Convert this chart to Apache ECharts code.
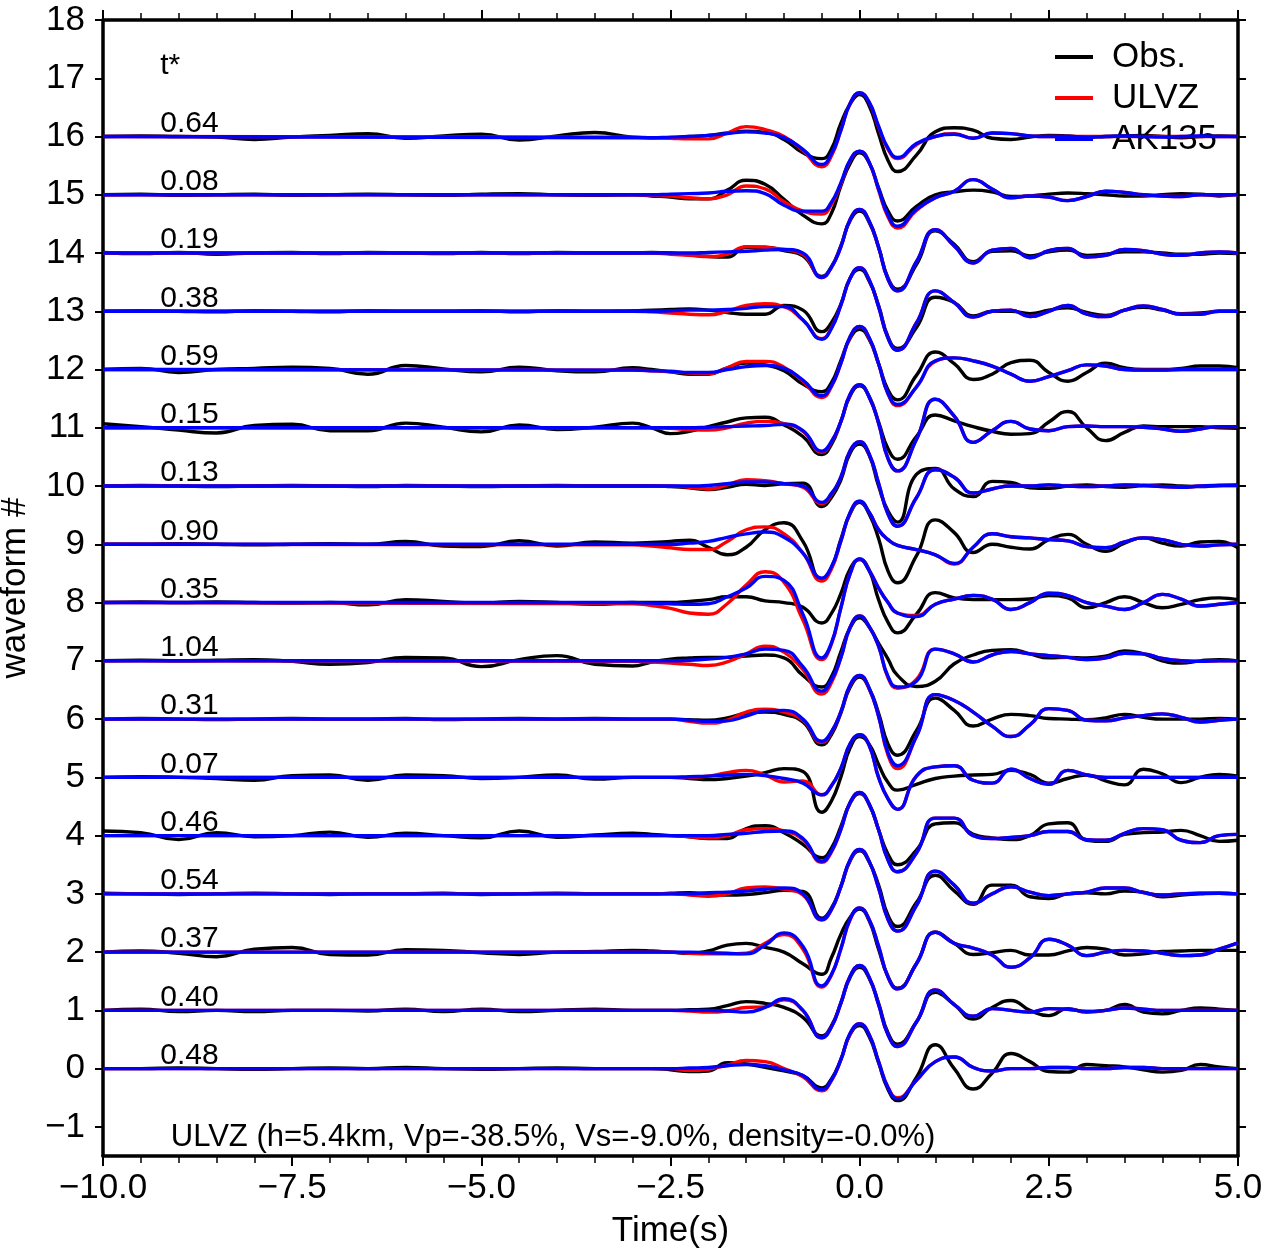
<!DOCTYPE html>
<html><head><meta charset="utf-8">
<script src="https://cdn.jsdelivr.net/npm/echarts@6/dist/echarts.min.js"></script>
<style>html,body{margin:0;padding:0;background:#fff}#c{width:1262px;height:1251px}</style>
</head><body><div id="c"></div>
<script>
// ---------- data ----------
const TIME_OBS = [-10,-9.5,-9,-8.5,-8,-7.5,-7,-6.5,-6,-5.5,-5,-4.5,-4,-3.5,
  -3,-2.75,-2.5,-2.25,-2,-1.75,-1.5,-1.25,-1,-0.75,-0.5,-0.25,0,0.25,0.5,0.75,1,1.25,1.5,1.75,2,2.25,2.5,2.75,3,3.25,3.5,3.75,4,4.25,4.5,4.75,5];
const TIME_SYN = [-10,
  -3,-2.75,-2.5,-2.25,-2,-1.75,-1.5,-1.25,-1,-0.75,-0.5,-0.25,0,0.25,0.5,0.75,1,1.25,1.5,1.75,2,2.25,2.5,2.75,3,3.25,3.5,3.75,4,4.25,4.5,4.75,5];
// extra samples around the main pulse (all traces)
const TIME_FINE = [-0.375,-0.125,0.125,0.375];
const OFFSETS = [16,15,14,13,12,11,10,9,8,7,6,5,4,3,2,1,0];
const TSTAR = ['0.64','0.08','0.19','0.38','0.59','0.15','0.13','0.90','0.35','1.04','0.31','0.07','0.46','0.54','0.37','0.40','0.48'];
const X_TICKS = [-10,-7.5,-5,-2.5,0,2.5,5];
const Y_TICKS = [-1,0,1,2,3,4,5,6,7,8,9,10,11,12,13,14,15,16,17,18];
const SERIES_NAMES = ['Obs.','ULVZ','AK135'];
const NOTE = 'ULVZ (h=5.4km, Vp=-38.5%, Vs=-9.0%, density=-0.0%)';

// observed (black), amplitude relative to trace baseline, on TIME_OBS
const obs16 = [0,0.01,0,-0.01,-0.05,-0.01,0.02,0.05,-0.03,0.01,0.04,-0.06,0.01,0.07,
  -0.01,-0.02,-0.02,0.0,0.02,0.06,0.09,0.07,-0.05,-0.28,-0.38,0.22,0.72,0.05,-0.6,-0.32,0.08,0.15,0.11,-0.03,-0.05,-0.01,0.02,0.01,-0.01,0.0,0.01,0.02,0.0,-0.02,0.0,0.01,0.0];
const obs15 = [0,0.01,-0.01,0,0.01,-0.01,0,0.01,0,-0.01,0.01,0.02,0,-0.01,
  0.0,-0.02,-0.04,-0.07,-0.07,0.08,0.25,0.18,-0.08,-0.35,-0.5,0.15,0.72,0.12,-0.45,-0.2,0.0,0.05,0.08,0.05,-0.03,-0.02,0.01,0.03,0.02,0.0,-0.02,-0.02,0.0,0.02,0.01,-0.02,0.01];
const obs14 = [0.01,-0.01,0.01,-0.02,0,0.01,-0.01,0.01,0,-0.01,0.01,-0.01,0.01,0,
  0.0,0.01,0.0,-0.03,-0.06,-0.07,0.1,0.1,0.04,-0.05,-0.4,0.12,0.72,0.1,-0.62,-0.2,0.38,0.15,-0.15,0.03,0.04,-0.05,0.02,0.05,-0.04,-0.02,0.02,0.02,0.0,-0.02,-0.02,0.0,-0.01];
const obs13 = [0,0.01,0,-0.01,0.01,0,-0.01,0.01,0,0,0.01,-0.01,0.01,0,
  0.01,0.02,0.03,0.04,0.02,-0.02,-0.05,-0.05,0.1,0.02,-0.35,0.12,0.72,0.1,-0.64,-0.28,0.24,0.15,-0.08,0.0,0.0,-0.04,0.02,0.06,-0.02,-0.07,0.02,0.07,0.02,-0.04,-0.03,0.0,0.0];
const obs12 = [0.0,0.02,-0.05,0.0,0.02,0.04,0.02,-0.08,0.07,0.01,-0.04,0.04,-0.02,-0.04,
  0.03,0.0,-0.04,-0.08,-0.08,0.03,0.11,0.08,-0.02,-0.25,-0.38,0.15,0.69,0.1,-0.52,-0.1,0.3,0.1,-0.17,-0.08,0.12,0.16,-0.05,-0.2,-0.05,0.11,0.03,0.0,0.0,0.02,0.06,0.06,0.03];
const obs11 = [0.07,0.02,-0.04,-0.09,0.04,0.06,-0.05,-0.05,0.08,0.01,-0.07,0.05,-0.03,0.01,
  0.08,0.0,-0.1,-0.06,0.02,0.1,0.17,0.18,0.05,-0.15,-0.46,0.1,0.72,0.1,-0.54,-0.15,0.22,0.12,0.02,-0.06,-0.11,-0.1,0.1,0.28,0.0,-0.22,-0.08,0.03,0.02,0.02,0.02,0.0,-0.01];
const obs10 = [0,0.01,0,-0.01,0,0.01,0,-0.01,0.01,0,-0.01,0,0.01,0,
  0.0,0.0,-0.01,-0.03,-0.06,-0.02,0.03,0.01,0.04,0.05,-0.35,0.1,0.72,0.0,-0.62,0.2,0.3,-0.05,-0.18,0.08,0.06,-0.03,-0.04,0.0,0.02,-0.01,-0.02,0.01,0.02,0.0,-0.01,0.01,0.02];
const obs9 = [0,0,0.01,0,-0.01,0,0.01,0,0.05,-0.03,-0.04,0.06,-0.03,0.04,
  0.02,0.03,0.05,0.07,-0.05,-0.18,-0.05,0.25,0.37,0.05,-0.6,0.08,0.72,0.1,-0.66,-0.2,0.42,0.2,-0.14,0.0,-0.05,-0.08,0.08,0.17,0.0,-0.12,0.02,0.11,0.02,-0.03,0.04,0.05,-0.06];
const obs8 = [0,0.01,0,0.01,0,-0.01,0,-0.04,0.05,0.02,-0.01,0.02,0.0,-0.03,
  0.0,0.0,0.0,0.02,0.05,0.1,0.1,0.03,0.0,-0.08,-0.35,0.15,0.74,0.05,-0.52,-0.2,0.17,0.08,0.05,0.05,0.05,0.06,0.12,0.08,-0.09,0.0,0.1,0.0,-0.09,-0.03,0.05,0.08,0.05];
const obs7 = [0.0,0.01,0.0,0.01,0.02,-0.01,-0.06,-0.03,0.06,0.05,-0.1,0.02,0.09,-0.06,
  -0.09,-0.02,0.03,0.05,0.06,0.06,0.08,0.1,0.05,-0.25,-0.45,0.15,0.74,0.3,-0.25,-0.44,-0.35,-0.05,0.1,0.18,0.19,0.12,0.05,0.06,0.05,0.08,0.17,0.12,0.0,-0.04,0.0,0.02,0.0];
const obs6 = [0,0.01,0,-0.01,0,0.01,0,0,0.01,-0.01,0,0.01,0,0.01,
  0.0,0.0,0.0,-0.01,-0.02,0.02,0.1,0.12,0.08,-0.05,-0.44,0.1,0.72,0.1,-0.62,-0.2,0.36,0.15,-0.12,0.0,0.08,0.06,0.01,0.0,-0.01,0.02,0.08,0.03,0.0,0.0,0.0,0.01,0.0];
const obs5 = [0,0.01,0,-0.02,-0.05,0.03,0.04,-0.05,0.04,0.03,-0.02,0.0,0.04,-0.03,
  0.0,0.0,0.0,-0.02,-0.04,-0.02,0.02,0.08,0.15,0.1,-0.6,0.0,0.7,0.22,-0.22,-0.12,-0.02,0.02,0.04,0.05,0.12,0.05,-0.1,-0.02,0.04,-0.06,-0.13,0.14,0.06,-0.09,0.0,0.05,0.02];
const obs4 = [0.08,0.05,-0.07,0.05,-0.02,0.0,0.06,-0.03,0.04,0.0,-0.04,0.08,-0.03,0.01,
  0.04,0.02,0.0,-0.02,-0.05,-0.05,0.12,0.17,0.05,-0.15,-0.38,0.15,0.72,0.1,-0.5,-0.25,0.2,0.22,0.02,-0.04,-0.07,0.0,0.2,0.22,-0.08,-0.1,0.02,0.05,0.06,0.09,0.0,-0.1,-0.08];
const obs3 = [0.01,0,-0.01,0,0.01,0,-0.01,0,0,0.01,-0.01,0,0.01,0,
  0.0,0.0,0.01,0.02,0.0,-0.02,-0.01,0.02,0.06,0.04,-0.42,0.12,0.74,0.15,-0.56,-0.15,0.32,0.05,-0.18,0.15,0.15,-0.05,-0.08,0.0,0.02,0.0,0.05,0.03,-0.05,-0.02,0.0,0.01,0.0];
const obs2 = [0.0,0.02,-0.02,-0.08,0.05,0.08,-0.04,-0.05,0.04,0.03,-0.01,-0.04,0.0,0.01,
  0.03,0.02,0.0,-0.02,0.02,0.12,0.15,0.08,0.0,-0.2,-0.38,0.3,0.74,0.05,-0.62,-0.2,0.34,0.15,-0.04,-0.01,0.03,-0.05,-0.05,0.02,0.08,0.05,-0.05,-0.03,0.01,0.02,0.03,0.03,0.03];
const obs1 = [0.0,0.02,-0.02,0.0,-0.02,0.0,0.0,-0.01,0.02,-0.02,0.02,-0.02,0.0,0.02,
  0.0,0.0,0.0,0.01,0.02,0.08,0.15,0.12,0.05,-0.12,-0.44,0.12,0.74,0.12,-0.58,-0.2,0.31,0.1,-0.15,0.05,0.17,0.0,-0.09,0.03,-0.03,0.0,0.1,-0.03,-0.06,0.0,0.04,0.02,0.0];
const obs0 = [0,0.0,0.01,0,-0.01,0,0.01,0,0.02,0.0,-0.01,0,0.01,0.0,
  0.0,0.0,-0.02,-0.05,-0.04,0.1,0.08,0.02,-0.04,-0.12,-0.33,0.15,0.74,0.1,-0.55,-0.15,0.41,0.0,-0.35,-0.08,0.26,0.12,-0.05,-0.06,0.07,0.05,0.03,-0.02,-0.06,-0.03,0.07,0.03,0.0];

// ULVZ synthetics (red), on TIME_SYN
const ulvz16 = [0,-0.01,-0.02,-0.03,-0.04,-0.04,0.06,0.17,0.12,0.0,-0.24,-0.52,0.1,0.75,0.16,-0.38,-0.14,0.0,0.05,-0.03,0.06,0.05,0.01,0,0,0,0,0,0,0,0,0,0,0];
const ulvz15 = [0,0,-0.01,-0.02,-0.05,-0.07,0.0,0.15,0.1,-0.12,-0.28,-0.33,0.18,0.75,0.08,-0.57,-0.27,-0.05,0.06,0.26,0.1,-0.05,-0.02,-0.04,-0.1,-0.03,0.06,0.04,0,-0.02,-0.03,0,0,0];
const ulvz14 = [0,0,0,-0.02,-0.04,-0.06,-0.02,0.11,0.1,0.06,-0.02,-0.42,0.1,0.75,0.1,-0.65,-0.15,0.4,0.12,-0.17,0.05,0.08,-0.08,0.04,0.08,-0.07,-0.04,0.06,0.04,-0.02,-0.04,0,0.02,0];
const ulvz13 = [0,0,-0.01,-0.03,-0.05,-0.06,0.0,0.1,0.13,0.08,-0.15,-0.47,0.1,0.75,0.08,-0.67,-0.2,0.35,0.15,-0.1,0.0,0.02,-0.09,0.0,0.1,-0.05,-0.09,0.02,0.09,0.03,-0.05,-0.05,0,0];
const ulvz12 = [0,-0.01,-0.02,-0.04,-0.06,-0.07,0.03,0.14,0.14,0.04,-0.2,-0.48,0.1,0.74,0.1,-0.62,-0.3,0.14,0.2,0.15,0.06,-0.08,-0.2,-0.12,-0.02,0.08,0.06,0.0,-0.01,-0.01,0,0,0,0];
const ulvz11 = [0,0,0,-0.01,-0.03,-0.04,0.0,0.08,0.11,0.07,-0.06,-0.42,0.1,0.74,0.08,-0.74,-0.2,0.49,0.2,-0.25,-0.05,0.11,-0.02,-0.05,0.02,0.03,0.02,0.02,0.01,-0.02,-0.06,-0.02,0.02,0.02];
const ulvz10 = [0,0,0,0,-0.02,-0.05,0.02,0.11,0.09,0.04,-0.02,-0.3,0.15,0.76,0.05,-0.69,-0.2,0.28,0.15,-0.12,-0.05,0.0,0.0,0.02,0.0,-0.01,0.0,0.02,0.01,-0.01,-0.02,0.0,0.01,0.01];
const ulvz9 = [0,-0.01,-0.03,-0.06,-0.09,-0.09,0.05,0.25,0.3,0.18,-0.15,-0.63,0.05,0.74,0.25,-0.02,-0.09,-0.18,-0.34,-0.05,0.18,0.13,0.11,0.08,0.06,-0.04,-0.06,0.04,0.11,0.08,0.0,-0.03,-0.01,0.0];
const ulvz8 = [0,-0.02,-0.05,-0.1,-0.18,-0.2,-0.02,0.3,0.53,0.35,-0.3,-0.98,-0.1,0.75,0.25,-0.18,-0.22,-0.03,0.06,0.12,0.06,-0.12,0.0,0.16,0.12,0.0,-0.06,-0.12,0.0,0.14,0.06,-0.06,-0.03,0.0];
const ulvz7 = [0,-0.01,-0.02,-0.04,-0.06,-0.08,-0.02,0.12,0.25,0.15,-0.15,-0.57,0.05,0.77,0.25,-0.47,-0.32,0.2,0.12,-0.02,0.1,0.16,0.12,0.09,0.06,0.02,0.05,0.13,0.12,0.04,0.0,-0.01,0.0,0.0];
const ulvz6 = [0,0,0,0,-0.04,-0.07,-0.02,0.12,0.17,0.12,-0.02,-0.4,0.12,0.75,0.05,-0.85,-0.3,0.42,0.32,0.12,-0.12,-0.3,-0.1,0.18,0.15,-0.02,-0.03,0.02,0.06,0.09,0.03,-0.05,-0.02,0.0];
const ulvz5 = [0,0,0,0,0.0,0.02,0.08,0.12,0.04,-0.08,-0.06,-0.3,0.15,0.73,0.0,-0.55,0.02,0.18,0.2,-0.05,-0.1,0.14,-0.02,-0.12,0.12,0.04,0,0,0,0,0,0,0,0];
const ulvz4 = [0,0,0,0,-0.02,-0.04,0.0,0.1,0.12,0.08,-0.07,-0.46,0.1,0.74,0.1,-0.62,-0.3,0.3,0.3,0.0,-0.05,-0.03,0.0,0.07,0.07,-0.07,-0.08,0.04,0.12,0.1,-0.08,-0.12,0.0,0.02];
const ulvz3 = [0,0,0,0,-0.02,-0.04,0.0,0.1,0.12,0.08,-0.02,-0.45,0.12,0.76,0.1,-0.64,-0.2,0.39,0.15,-0.16,0.0,0.12,0.03,-0.03,0.0,0.03,0.1,0.1,0.02,-0.02,0.0,0.01,0.01,0.0];
const ulvz2 = [0,0,0,0,-0.02,-0.03,-0.03,-0.02,0.15,0.3,0.05,-0.6,0.05,0.76,0.1,-0.63,-0.2,0.34,0.15,0.07,-0.05,-0.26,-0.1,0.22,0.12,-0.06,0.0,0.03,0.02,-0.02,-0.06,-0.05,0.05,0.16];
const ulvz1 = [0,0,0,0,-0.01,-0.03,-0.01,0.05,0.06,0.18,0.0,-0.47,0.12,0.77,0.1,-0.62,-0.2,0.35,0.1,-0.1,0.03,0.0,-0.03,0.03,0.02,-0.02,0.0,0.04,0.02,0,0,0,0,0];
const ulvz0 = [0,0,0,0,-0.03,-0.01,0.06,0.14,0.12,0.0,-0.14,-0.38,0.15,0.77,0.12,-0.5,-0.2,0.12,0.2,0.02,-0.04,0.0,0.0,0.02,0.02,0.0,0.0,0.02,0.02,0,0,0,0,0];

// AK135 synthetics (blue), on TIME_SYN
const ak16 = [0,-0.02,-0.02,-0.01,0,0.02,0.05,0.08,0.06,-0.02,-0.22,-0.48,0.1,0.75,0.18,-0.36,-0.12,0.0,0.04,-0.03,0.06,0.05,0.01,0,0,-0.01,0,0.01,0,-0.01,0,0.01,0,0];
const ak15 = [0,0,0,0.01,0.02,0.03,0.06,0.07,0.02,-0.18,-0.28,-0.28,0.2,0.75,0.1,-0.54,-0.25,-0.05,0.06,0.26,0.1,-0.05,-0.02,-0.04,-0.1,-0.03,0.06,0.04,0,-0.02,-0.03,0,0,0];
const ak14 = [0,0,0,0,0,0.01,0.02,0.03,0.05,0.06,0.0,-0.42,0.1,0.75,0.1,-0.65,-0.15,0.4,0.12,-0.17,0.05,0.08,-0.08,0.04,0.08,-0.07,-0.04,0.06,0.04,-0.02,-0.04,0,0.02,0];
const ak13 = [0,0,0,0.01,0.02,0.02,0.03,0.05,0.08,0.08,-0.15,-0.48,0.1,0.75,0.08,-0.67,-0.2,0.35,0.15,-0.1,0.0,0.02,-0.09,0.0,0.1,-0.05,-0.09,0.02,0.09,0.03,-0.05,-0.05,0,0];
const ak12 = [0,-0.01,-0.02,-0.03,-0.05,-0.05,0.0,0.05,0.07,0.02,-0.18,-0.45,0.1,0.74,0.1,-0.6,-0.3,0.15,0.2,0.15,0.06,-0.08,-0.2,-0.12,-0.02,0.08,0.06,0.0,-0.01,-0.01,0,0,0,0];
const ak11 = [0,0,0,0,0,0.01,0.02,0.03,0.04,0.06,-0.05,-0.4,0.1,0.74,0.08,-0.74,-0.2,0.49,0.2,-0.25,-0.05,0.11,-0.02,-0.05,0.02,0.03,0.02,0.02,0.01,-0.02,-0.06,-0.02,0.02,0.02];
const ak10 = [0,0,0,0,0,0.01,0.04,0.07,0.07,0.04,0.0,-0.28,0.15,0.76,0.05,-0.69,-0.2,0.28,0.15,-0.12,-0.05,0.0,0.0,0.02,0.0,-0.01,0.0,0.02,0.01,-0.01,-0.02,0.0,0.01,0.01];
const ak9 = [0,0,0,0,0.02,0.05,0.12,0.18,0.21,0.12,-0.15,-0.58,0.05,0.74,0.25,-0.02,-0.09,-0.18,-0.33,-0.05,0.18,0.13,0.11,0.08,0.06,-0.04,-0.06,0.04,0.11,0.08,0.0,-0.03,-0.01,0.0];
const ak8 = [0,0.0,-0.01,-0.02,-0.03,-0.02,0.1,0.25,0.45,0.38,-0.2,-0.95,-0.1,0.75,0.25,-0.18,-0.24,-0.03,0.06,0.12,0.06,-0.12,0.0,0.16,0.12,0.0,-0.06,-0.12,0.0,0.14,0.06,-0.06,-0.03,0.0];
const ak7 = [0,0,0,0,0.01,0.03,0.06,0.12,0.2,0.18,-0.1,-0.52,0.05,0.77,0.25,-0.45,-0.35,0.2,0.12,-0.02,0.1,0.16,0.12,0.09,0.06,0.02,0.05,0.13,0.12,0.04,0.0,-0.01,0.0,0.0];
const ak6 = [0,0,0,0,-0.02,-0.04,-0.03,0.05,0.14,0.15,0.0,-0.38,0.12,0.75,0.05,-0.8,-0.3,0.42,0.32,0.12,-0.12,-0.3,-0.1,0.18,0.15,-0.02,-0.03,0.02,0.06,0.09,0.03,-0.05,-0.02,0.0];
const ak5 = [0,0,0,0,0.01,0.02,0.04,0.05,0.03,-0.02,-0.1,-0.3,0.15,0.73,0.0,-0.55,0.02,0.18,0.2,-0.05,-0.1,0.14,-0.02,-0.12,0.12,0.04,0,0,0,0,0,0,0,0];
const ak4 = [0,0,0,0,0.0,0.0,0.02,0.04,0.07,0.08,-0.05,-0.44,0.1,0.74,0.1,-0.62,-0.3,0.3,0.3,0.0,-0.05,-0.03,0.0,0.07,0.07,-0.07,-0.08,0.04,0.12,0.1,-0.08,-0.12,0.0,0.02];
const ak3 = [0,0,0,0,0.0,0.02,0.03,0.05,0.08,0.1,0.0,-0.44,0.12,0.76,0.1,-0.64,-0.2,0.39,0.15,-0.16,0.0,0.12,0.03,-0.03,0.0,0.03,0.1,0.1,0.02,-0.02,0.0,0.01,0.01,0.0];
const ak2 = [0,0,0,0,0.0,-0.01,-0.02,-0.03,0.12,0.33,0.1,-0.58,0.05,0.76,0.1,-0.63,-0.2,0.34,0.15,0.07,-0.05,-0.26,-0.1,0.22,0.12,-0.06,0.0,0.03,0.02,-0.02,-0.06,-0.05,0.05,0.16];
const ak1 = [0,0,0,0,0.0,0.0,-0.01,-0.03,0.05,0.2,0.0,-0.47,0.12,0.77,0.1,-0.62,-0.2,0.35,0.1,-0.1,0.03,0.0,-0.03,0.03,0.02,-0.02,0.0,0.04,0.02,0,0,0,0,0];
const ak0 = [0,0,0,0,0.01,0.02,0.05,0.07,0.05,-0.02,-0.12,-0.36,0.15,0.77,0.12,-0.52,-0.2,0.12,0.2,0.02,-0.04,0.0,0.0,0.02,0.02,0.0,0.0,0.02,0.02,0,0,0,0,0];

// main-pulse detail on TIME_FINE, traces 16 .. 0
const OBS_FINE = [
  [-0.22,0.56,0.53,-0.41],[-0.32,0.54,0.55,-0.28],[-0.24,0.56,0.53,-0.43],[-0.20,0.57,0.52,-0.44],
  [-0.23,0.54,0.52,-0.35],[-0.29,0.55,0.54,-0.36],[-0.20,0.57,0.53,-0.43],[-0.41,0.53,0.52,-0.46],
  [-0.19,0.58,0.56,-0.34],[-0.28,0.57,0.58,0.03],[-0.27,0.55,0.53,-0.43],[-0.41,0.51,0.57,-0.09],
  [-0.22,0.56,0.54,-0.32],[-0.25,0.57,0.55,-0.37],[-0.10,0.60,0.54,-0.42],[-0.27,0.57,0.55,-0.39],
  [-0.18,0.59,0.55,-0.36]];
const ULVZ_FINE = [
  [-0.34,0.57,0.59,-0.22],[-0.17,0.59,0.56,-0.38],[-0.25,0.58,0.55,-0.45],[-0.29,0.57,0.54,-0.46],
  [-0.30,0.56,0.54,-0.42],[-0.25,0.57,0.53,-0.53],[-0.15,0.61,0.55,-0.48],[-0.43,0.54,0.55,0.08],
  [-0.72,0.50,0.55,0.0],[-0.38,0.58,0.59,-0.29],[-0.23,0.58,0.52,-0.62],[-0.15,0.58,0.55,-0.37],
  [-0.29,0.57,0.54,-0.42],[-0.28,0.58,0.56,-0.44],[-0.40,0.56,0.56,-0.43],[-0.29,0.59,0.57,-0.42],
  [-0.21,0.60,0.59,-0.32]];
const AK_FINE = [
  [-0.30,0.57,0.59,-0.20],[-0.13,0.60,0.56,-0.35],[-0.25,0.58,0.55,-0.45],[-0.30,0.57,0.54,-0.46],
  [-0.28,0.57,0.55,-0.41],[-0.24,0.58,0.53,-0.53],[-0.13,0.61,0.55,-0.48],[-0.39,0.55,0.55,0.08],
  [-0.70,0.50,0.55,0.0],[-0.33,0.58,0.59,-0.27],[-0.22,0.59,0.53,-0.58],[-0.15,0.58,0.55,-0.37],
  [-0.27,0.57,0.54,-0.42],[-0.27,0.59,0.56,-0.44],[-0.39,0.57,0.56,-0.43],[-0.29,0.59,0.57,-0.42],
  [-0.20,0.61,0.58,-0.33]];

// ---------- chart ----------
const OBS_LIST = [obs16,obs15,obs14,obs13,obs12,obs11,obs10,obs9,obs8,obs7,obs6,obs5,obs4,obs3,obs2,obs1,obs0];
const ULVZ_LIST = [ulvz16,ulvz15,ulvz14,ulvz13,ulvz12,ulvz11,ulvz10,ulvz9,ulvz8,ulvz7,ulvz6,ulvz5,ulvz4,ulvz3,ulvz2,ulvz1,ulvz0];
const AK_LIST = [ak16,ak15,ak14,ak13,ak12,ak11,ak10,ak9,ak8,ak7,ak6,ak5,ak4,ak3,ak2,ak1,ak0];

const FONT = '"Liberation Sans", Helvetica, Arial, sans-serif';
const MINUS = '\u2212';
const fmtX = v => (v < 0 ? MINUS : '') + Math.abs(v).toFixed(1);
const fmtY = v => (v < 0 ? MINUS : '') + Math.abs(v);
const COLORS = ['#000000', '#ff0000', '#0000ff'];

const series = [];
function addTraces(list, fineList, times, name, color, z) {
  list.forEach((vals, k) => {
    const off = OFFSETS[k];
    const pts = times.map((t, i) => [t, off + vals[i]])
      .concat(TIME_FINE.map((t, i) => [t, off + fineList[k][i]]))
      .sort((p, q) => p[0] - q[0]);
    series.push({
      type: 'line', name: name, z: z, silent: true,
      data: pts,
      smooth: 0.5, symbol: 'none', showSymbol: false,
      lineStyle: { color: color, width: 3.4 }, itemStyle: { color: color },
      clip: true
    });
  });
}
addTraces(OBS_LIST, OBS_FINE, TIME_OBS, SERIES_NAMES[0], COLORS[0], 2);
addTraces(ULVZ_LIST, ULVZ_FINE, TIME_SYN, SERIES_NAMES[1], COLORS[1], 3);
addTraces(AK_LIST, AK_FINE, TIME_SYN, SERIES_NAMES[2], COLORS[2], 4);

const labelStyle = { show: true, position: 'right', distance: 0, fontFamily: FONT,
  color: '#000000', opacity: 1, textBorderWidth: 0, formatter: p => p.data[2] };

// t* labels
const LABEL_T = -9.25;
const labelData = TSTAR.map((s, k) => [LABEL_T, OFFSETS[k], s]);
labelData.push([LABEL_T, 17, 't*']);
series.push({
  type: 'scatter', name: 'labels', z: 6, silent: true,
  data: labelData, symbolSize: 1, itemStyle: { color: '#ffffff', opacity: 0 },
  label: Object.assign({}, labelStyle, { offset: [0, -13], fontSize: 30 })
});
series.push({
  type: 'scatter', name: 'note', z: 6, silent: true,
  data: [[-9.11, -1, NOTE]], symbolSize: 1, itemStyle: { color: '#ffffff', opacity: 0 },
  label: Object.assign({}, labelStyle, { offset: [0, 11], fontSize: 31 })
});

const axisCommonX = {
  type: 'value', min: -10, max: 5, interval: 2.5,
  splitLine: { show: false },
  axisLine: { show: true, onZero: false, lineStyle: { color: '#000', width: 3.5 } },
  axisTick: { show: true, inside: false, length: 10, lineStyle: { color: '#000', width: 2 } },
  minorTick: { show: true, splitNumber: 5, length: 7, lineStyle: { color: '#000', width: 1.5 } }
};
const axisCommonY = {
  type: 'value', min: -1.5, max: 18,
  splitLine: { show: false },
  axisLine: { show: true, onZero: false, lineStyle: { color: '#000', width: 3.5 } },
  axisTick: { show: true, inside: false, length: 8, customValues: Y_TICKS, lineStyle: { color: '#000', width: 2 } }
};

const option = {
  animation: false,
  backgroundColor: '#ffffff',
  grid: { left: 103, right: 24, top: 20, bottom: 95, containLabel: false, outerBoundsMode: 'none' },
  legend: {
    data: SERIES_NAMES.map(n => ({ name: n, icon: 'rect' })),
    orient: 'vertical', left: 1055, top: 39, padding: 0,
    itemGap: 5, itemWidth: 38, itemHeight: 4, selectedMode: false,
    textStyle: { fontSize: 35, fontFamily: FONT, color: '#000', padding: [0, 0, 0, 14], lineHeight: 36 }
  },
  xAxis: [
    Object.assign({}, axisCommonX, {
      position: 'bottom',
      axisLabel: { show: true, fontSize: 35, fontFamily: FONT, color: '#000', margin: 15, formatter: fmtX,
        customValues: X_TICKS, hideOverlap: false },
      name: 'Time(s)', nameLocation: 'middle', nameGap: 58,
      nameTextStyle: { fontSize: 35, fontFamily: FONT, color: '#000' }
    }),
    Object.assign({}, axisCommonX, { position: 'top', axisLabel: { show: false } })
  ],
  yAxis: [
    Object.assign({}, axisCommonY, {
      position: 'left',
      axisLabel: { show: true, fontSize: 35, fontFamily: FONT, color: '#000', margin: 18, formatter: fmtY,
        customValues: Y_TICKS, hideOverlap: false },
      name: 'waveform #', nameLocation: 'middle', nameGap: 70, nameRotate: 90,
      nameTextStyle: { fontSize: 35, fontFamily: FONT, color: '#000' }
    }),
    Object.assign({}, axisCommonY, { position: 'right', axisLabel: { show: false } })
  ],
  series: series
};

const chart = echarts.init(document.getElementById('c'), null, { renderer: 'canvas' });
chart.setOption(option);
</script></body></html>
